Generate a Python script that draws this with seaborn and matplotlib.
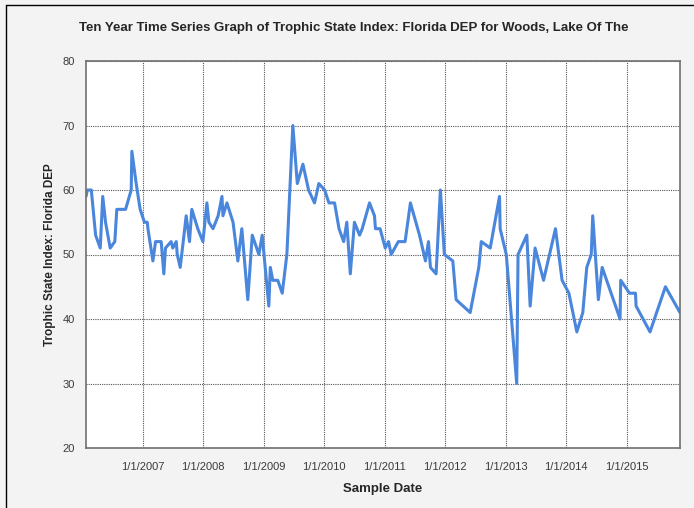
import pandas as pd
import matplotlib
matplotlib.use("Agg")
import matplotlib.pyplot as plt
import matplotlib.dates as mdates
from matplotlib.lines import Line2D
import seaborn as sns

# Sample dates and Trophic State Index values
sample_dates = [
    "2006-01-24", "2006-02-01", "2006-02-25", "2006-03-23", "2006-04-20", "2006-05-05",
    "2006-05-22", "2006-06-19", "2006-07-17", "2006-07-29", "2006-09-20", "2006-10-24",
    "2006-10-28", "2006-11-23", "2006-12-17", "2007-01-12", "2007-01-29", "2007-02-02",
    "2007-03-04", "2007-03-20", "2007-04-23", "2007-05-09", "2007-05-19", "2007-06-22",
    "2007-07-02", "2007-07-23", "2007-07-29", "2007-08-16", "2007-09-21", "2007-10-11",
    "2007-10-25", "2007-11-30", "2007-12-31", "2008-01-24", "2008-02-05", "2008-03-01",
    "2008-04-01", "2008-04-24", "2008-04-30", "2008-05-24", "2008-06-30", "2008-07-29",
    "2008-08-22", "2008-09-27", "2008-10-24", "2008-12-03", "2008-12-23", "2009-02-01",
    "2009-02-10", "2009-02-25", "2009-03-27", "2009-04-23", "2009-05-21", "2009-06-26",
    "2009-07-23", "2009-08-26", "2009-09-29", "2009-11-04", "2009-11-30", "2010-01-04",
    "2010-01-30", "2010-03-05", "2010-04-01", "2010-04-29", "2010-05-18", "2010-06-08",
    "2010-07-03", "2010-08-03", "2010-08-19", "2010-10-02", "2010-11-01", "2010-11-07",
    "2010-12-05", "2011-01-05", "2011-01-25", "2011-02-10", "2011-03-25", "2011-05-05",
    "2011-06-06", "2011-07-31", "2011-09-05", "2011-09-23", "2011-10-05", "2011-11-08",
    "2011-12-04", "2011-12-28", "2012-02-17", "2012-03-08", "2012-06-01", "2012-07-23",
    "2012-08-07", "2012-09-30", "2012-11-25", "2012-11-29", "2013-01-05", "2013-03-09",
    "2013-03-17", "2013-05-09", "2013-05-29", "2013-06-28", "2013-08-18", "2013-10-29",
    "2013-12-08", "2014-01-18", "2014-03-07", "2014-04-12", "2014-05-06", "2014-06-02",
    "2014-06-11", "2014-07-15", "2014-08-07", "2014-11-23", "2014-11-27", "2015-01-19",
    "2015-02-24", "2015-02-28", "2015-05-23", "2015-08-24", "2015-11-20",
]
tsi_values = [
    59, 60, 60, 53, 51, 59,
    55, 51, 52, 57, 57, 60,
    66, 61, 57, 55, 55, 54,
    49, 52, 52, 47, 51, 52,
    51, 52, 50, 48, 56, 52,
    57, 54, 52, 58, 55, 54,
    56, 59, 56, 58, 55, 49,
    54, 43, 53, 50, 53, 42,
    48, 46, 46, 44, 50, 70,
    61, 64, 60, 58, 61, 60,
    58, 58, 54, 52, 55, 47,
    55, 53, 54, 58, 56, 54,
    54, 51, 52, 50, 52, 52,
    58, 53, 49, 52, 48, 47,
    60, 50, 49, 43, 41, 48,
    52, 51, 59, 54, 50, 30,
    50, 53, 42, 51, 46, 54,
    46, 44, 38, 41, 48, 50,
    56, 43, 48, 40, 46, 44,
    44, 42, 38, 45, 41,
]
year_ticks = ["2007-01-01", "2008-01-01", "2009-01-01", "2010-01-01", "2011-01-01",
              "2012-01-01", "2013-01-01", "2014-01-01", "2015-01-01"]
y_ticks = [20, 30, 40, 50, 60, 70, 80]

df = pd.DataFrame({"date": pd.to_datetime(sample_dates), "tsi": tsi_values})

sns.set_style("white")
plt.rcParams["font.family"] = ["Liberation Sans", "DejaVu Sans"]

fig = plt.figure(figsize=(6.94, 5.08), dpi=100, facecolor="#f3f3f3")
ax = fig.add_axes([86 / 694, 1 - 448 / 508, (680 - 86) / 694, (448 - 61) / 508])

sns.lineplot(data=df, x="date", y="tsi", ax=ax, color="#4a86dc", linewidth=2.2)

ax.set_xlim(df["date"].min(), df["date"].max())
ax.set_ylim(20, 80)
ax.set_yticks(y_ticks)
ax.set_xticks(pd.to_datetime(year_ticks))
ax.xaxis.set_major_formatter(mdates.DateFormatter("%-m/%-d/%Y"))

ax.grid(True, color="#555555", linestyle=(0, (1, 1)), linewidth=0.8)
for s in ax.spines.values():
    s.set_color("#707070")
    s.set_linewidth(1.2)
ax.tick_params(axis="both", direction="out", length=5, width=1, color="#444444",
               labelsize=8, labelcolor="#3a3a3a")
ax.tick_params(axis="x", pad=5)
ax.tick_params(axis="y", pad=3)

ax.set_xlabel("Sample Date", fontsize=9.5, fontweight="bold", labelpad=8)
ax.set_ylabel("Trophic State Index: Florida DEP", fontsize=8.5, fontweight="bold", labelpad=5)
fig.text(354 / 694, 1 - 28 / 508, "Ten Year Time Series Graph of Trophic State Index: Florida DEP for Woods, Lake Of The",
         ha="center", va="center", fontsize=9.5, fontweight="bold")

# outer frame lines (left and top)
fig.add_artist(Line2D([6 / 694, 6 / 694], [0, 1 - 5 / 508], color="black", lw=1, transform=fig.transFigure))
fig.add_artist(Line2D([6 / 694, 1], [1 - 5 / 508, 1 - 5 / 508], color="black", lw=1, transform=fig.transFigure))

fig.savefig("out.png", dpi=100, facecolor=fig.get_facecolor())
